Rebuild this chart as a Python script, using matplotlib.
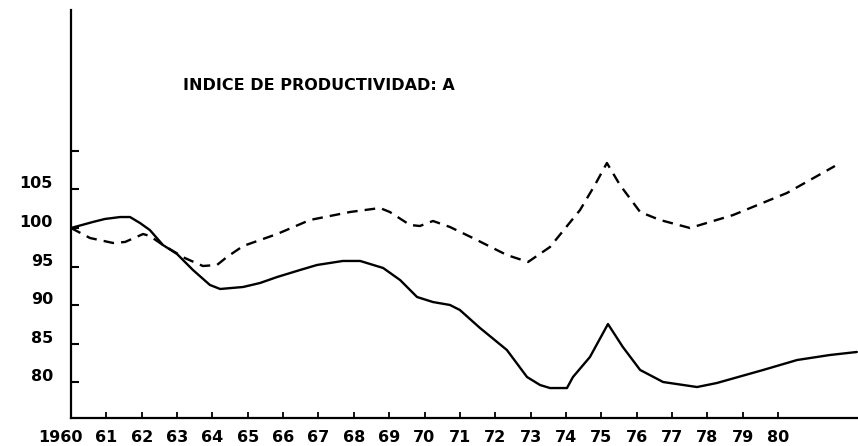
import matplotlib
matplotlib.use("Agg")
import matplotlib.pyplot as plt
import matplotlib.transforms as mtransforms

# --- data ---
solid_years = [1960.00, 1960.62, 1960.96, 1961.39, 1961.67, 1961.95, 1962.23, 1962.60,
               1963.00, 1963.45, 1963.93, 1964.22, 1964.87, 1965.35, 1965.83, 1966.48,
               1966.96, 1967.69, 1968.18, 1968.83, 1969.31, 1969.79, 1970.24, 1970.72,
               1971.00, 1971.57, 1972.33, 1972.90, 1973.27, 1973.55, 1974.03, 1974.20,
               1974.68, 1975.19, 1975.61, 1976.10, 1976.75, 1977.71, 1978.27, 1979.58,
               1980.54, 1981.47, 1982.23]
solid_values = [100.0, 100.78, 101.17, 101.42, 101.42, 100.65, 99.74, 97.80,
                96.63, 94.56, 92.62, 92.10, 92.36, 92.88, 93.65, 94.56,
                95.21, 95.73, 95.73, 94.82, 93.26, 91.06, 90.41, 90.03,
                89.38, 87.05, 84.20, 80.70, 79.66, 79.27, 79.27, 80.70,
                83.29, 87.56, 84.59, 81.61, 80.05, 79.40, 79.92, 81.61,
                82.90, 83.55, 83.94]

dashed_years = [1960.00, 1960.54, 1961.19, 1961.53, 1962.04, 1962.23, 1962.60, 1963.22,
                1963.73, 1964.13, 1964.41, 1964.87, 1965.83, 1966.76, 1967.89, 1968.74,
                1969.02, 1969.59, 1969.87, 1970.24, 1970.72, 1971.37, 1972.33, 1972.93,
                1973.55, 1974.40, 1974.82, 1975.16, 1975.53, 1976.10, 1976.66, 1977.51,
                1978.73, 1980.25, 1981.61]
dashed_values = [100.0, 98.70, 98.06, 98.19, 99.22, 98.96, 97.80, 96.11,
                 95.08, 95.21, 96.24, 97.67, 99.22, 101.04, 102.07, 102.59,
                 102.07, 100.39, 100.26, 100.91, 100.13, 98.70, 96.50, 95.60,
                 97.54, 102.33, 105.57, 108.42, 105.57, 102.07, 101.04, 100.0,
                 101.68, 104.53, 108.03]

x_ticks = list(range(1960, 1981))
x_labels = ["1960"] + [str(y % 100) for y in range(1961, 1981)]
y_ticks = [80, 85, 90, 95, 100, 105, 110]
y_labels = ["80", "85", "90", "95", "100", "105", ""]
title = "INDICE DE PRODUCTIVIDAD: A"

# --- figure ---
W, H = 858, 446
fig = plt.figure(figsize=(W / 100, H / 100), dpi=100)
left, bottom, top = 71 / W, 1 - 418 / H, 1 - 10 / H
ax = fig.add_axes([left, bottom, 1 - left, top - bottom])

ax.plot(solid_years, solid_values, color="black", lw=1.7,
        solid_capstyle="round", solid_joinstyle="round")
ax.plot(dashed_years, dashed_values, color="black", lw=1.7, linestyle=(0, (4.5, 3)))

px_per_year = 35.35
ax.set_xlim(1960, 1960 + (W - 71) / px_per_year)
px_per_unit = 7.72
ax.set_ylim(100 - (418 - 228) / px_per_unit, 100 + (228 - 10) / px_per_unit)

for s in ["top", "right"]:
    ax.spines[s].set_visible(False)
for s in ["left", "bottom"]:
    ax.spines[s].set_linewidth(1.6)

font = dict(family="DejaVu Sans", weight="bold", size=11.5)
ax.set_xticks(x_ticks)
ax.set_xticklabels(x_labels, **font)
ax.set_yticks(y_ticks)
ax.set_yticklabels(y_labels, **font)
ax.tick_params(axis="x", direction="in", length=4, width=1.3, pad=9)
ax.tick_params(axis="y", direction="in", length=6, width=1.5, pad=13)

offset = mtransforms.ScaledTranslation(0, 7 / 100, fig.dpi_scale_trans)
for lab in ax.get_yticklabels():
    lab.set_transform(lab.get_transform() + offset)

xlabs = ax.get_xticklabels()
shift = mtransforms.ScaledTranslation(-11 / 100, 0, fig.dpi_scale_trans)
xlabs[0].set_transform(xlabs[0].get_transform() + shift)

fig.text(183 / W, 1 - 86 / H, title, ha="left", va="center", **font)

fig.savefig("out.png", dpi=100, facecolor="white")
